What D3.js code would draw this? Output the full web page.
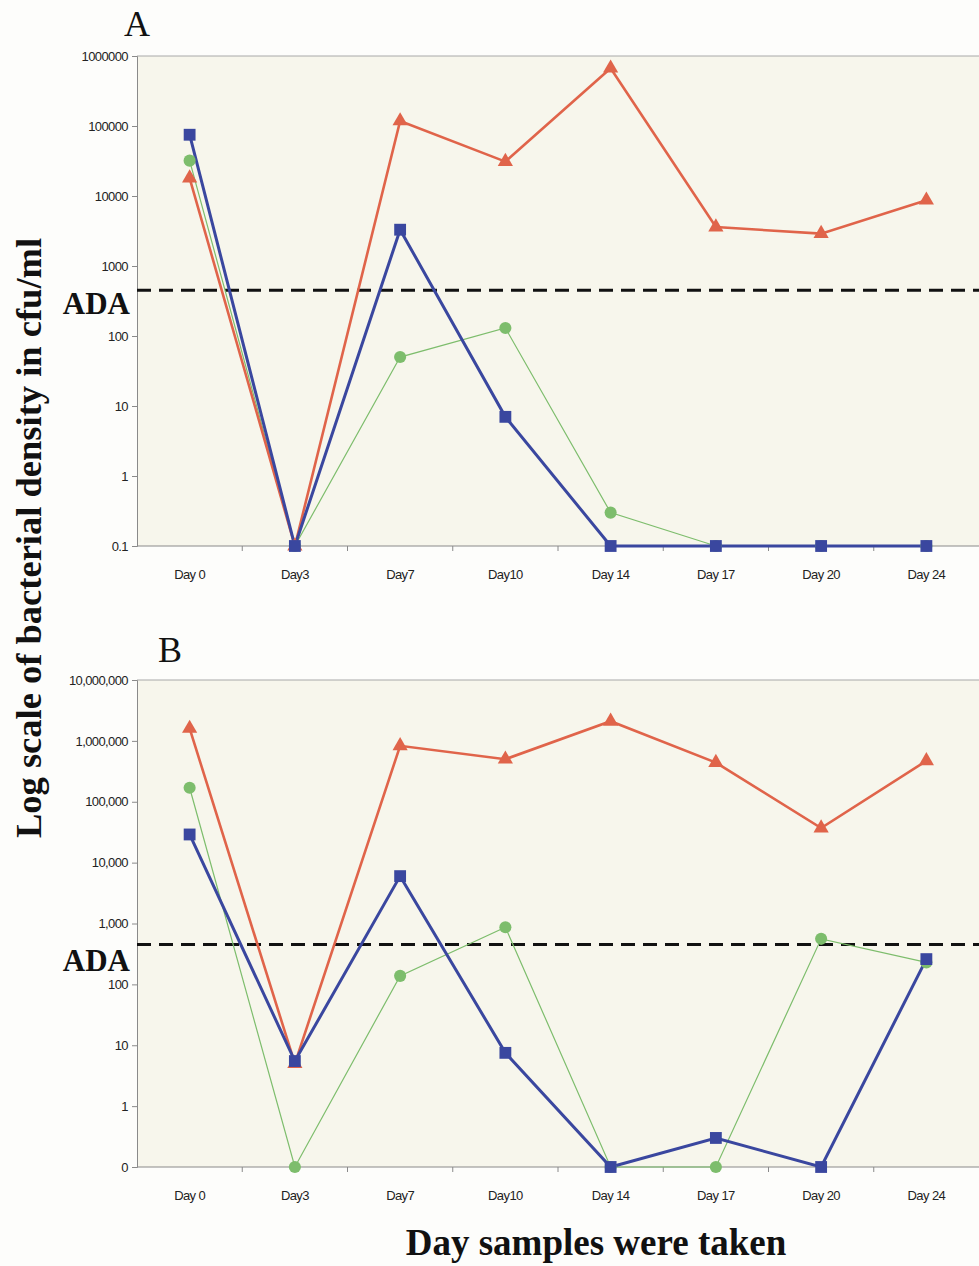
<!DOCTYPE html>
<html>
<head>
<meta charset="utf-8">
<script src="https://cdn.jsdelivr.net/npm/d3@7"></script>
<style>
  body { margin: 0; background: #fdfdfb; }
  svg text { font-family: "Liberation Sans", Arial, sans-serif; }
  .serif { font-family: "Liberation Serif", "Times New Roman", serif !important; }
</style>
</head>
<body>
<div id="vis"></div>
<script>
var WIDTH = 979
var HEIGHT = 1266

// categories (x axis)
var days = ["Day 0", "Day3", "Day7", "Day10", "Day 14", "Day 17", "Day 20", "Day 24"];

// detection threshold (ADA)
var adaLevel = 450;

// panel A values (cfu/ml)
var blueA  = [75000, 0.1, 3300, 7, 0.1, 0.1, 0.1, 0.1];
var greenA = [32000, 0.1, 50, 130, 0.3, 0.1, 0.1, 0.1];
var redA   = [18000, 0.1, 118000, 31000, 670000, 3600, 2900, 8700];
var ticksA = [0.1, 1, 10, 100, 1000, 10000, 100000, 1000000];

// panel B values (cfu/ml)
var blueB  = [29000, 5.5, 6000, 7.5, 0.1, 0.3, 0.1, 260];
var greenB = [170000, 0.1, 138, 870, 0.1, 0.1, 560, 230];
var redB   = [1600000, 5, 830000, 500000, 2100000, 440000, 37000, 470000];
var ticksB = [0.1, 1, 10, 100, 1000, 10000, 100000, 1000000, 10000000];

const svg = d3.select('#vis').append('svg')
    .attr('width', WIDTH)
    .attr('height', HEIGHT);

svg.append('rect').attr('width', WIDTH).attr('height', HEIGHT).attr('fill', '#fdfdfb');

var left = 137, right = 979;

var x = d3.scaleBand().domain(days).range([left, right]);

function drawPanel(cfg) {
    var y = d3.scaleLog().domain([cfg.ticks[0], cfg.ticks[cfg.ticks.length - 1]]).range([cfg.bottom, cfg.top]);
    var g = svg.append('g');

    // plot area
    g.append('rect')
        .attr('x', left).attr('y', cfg.top)
        .attr('width', right - left).attr('height', cfg.bottom - cfg.top)
        .attr('fill', '#f7f6ec');
    g.append('line')
        .attr('x1', left).attr('x2', right).attr('y1', cfg.top).attr('y2', cfg.top)
        .attr('stroke', '#a8a8a8').attr('stroke-width', 1);

    // y axis
    var yAxis = d3.axisLeft(y).tickValues(cfg.ticks).tickFormat(cfg.fmt).tickSize(5).tickPadding(4);
    var ya = g.append('g').attr('transform', 'translate(' + left + ',0)').call(yAxis);
    ya.select('.domain').attr('stroke', '#8a8a8a');
    ya.selectAll('.tick line').attr('stroke', '#8a8a8a');
    ya.selectAll('text').attr('font-size', 13).attr('fill', '#222').attr('letter-spacing', -0.6);

    // x axis with ticks between categories
    var xa = g.append('g').attr('transform', 'translate(0,' + cfg.bottom + ')');
    xa.append('line').attr('x1', left).attr('x2', right).attr('stroke', '#8a8a8a');
    xa.selectAll('line.tk')
        .data(days.slice(1))
        .enter().append('line')
        .attr('class', 'tk')
        .attr('x1', d => x(d)).attr('x2', d => x(d))
        .attr('y1', 0).attr('y2', 5)
        .attr('stroke', '#8a8a8a');
    xa.selectAll('text')
        .data(days)
        .enter().append('text')
        .attr('x', d => x(d) + x.bandwidth() / 2)
        .attr('y', 33)
        .attr('text-anchor', 'middle')
        .attr('font-size', 13)
        .attr('letter-spacing', -0.6)
        .attr('fill', '#222')
        .text(d => d);

    // ADA dashed line
    g.append('line')
        .attr('x1', left).attr('x2', right)
        .attr('y1', y(adaLevel)).attr('y2', y(adaLevel))
        .attr('stroke', '#111').attr('stroke-width', 3)
        .attr('stroke-dasharray', '14,8');
    g.append('text')
        .attr('class', 'serif')
        .attr('x', 130).attr('y', y(adaLevel) + cfg.adaDy)
        .attr('text-anchor', 'end')
        .attr('font-size', 31).attr('font-weight', 'bold')
        .attr('fill', '#111')
        .text('ADA');

    // panel letter
    g.append('text')
        .attr('class', 'serif')
        .attr('x', cfg.letterX).attr('y', cfg.letterY)
        .attr('font-size', 36)
        .attr('fill', '#111')
        .text(cfg.letter);

    var line = d3.line()
        .x((d, i) => x(days[i]) + x.bandwidth() / 2)
        .y(d => y(d));

    var series = [
        { values: cfg.green, color: '#7dbd6c', width: 1.2, shape: 'circle' },
        { values: cfg.red, color: '#e0644a', width: 2.6, shape: 'triangle' },
        { values: cfg.blue, color: '#3a479f', width: 3, shape: 'square' }
    ];

    series.forEach(s => {
        g.append('path')
            .datum(s.values)
            .attr('d', line)
            .attr('fill', 'none')
            .attr('stroke', s.color)
            .attr('stroke-width', s.width);
    });

    series.forEach(s => {
        var sym = s.shape == 'circle' ? d3.symbolCircle : (s.shape == 'triangle' ? d3.symbolTriangle : d3.symbolSquare);
        var size = s.shape == 'circle' ? 115 : (s.shape == 'triangle' ? 100 : 140);
        g.selectAll('path.m-' + s.shape)
            .data(s.values)
            .enter().append('path')
            .attr('class', 'm-' + s.shape)
            .attr('d', d3.symbol().type(sym).size(size))
            .attr('transform', (d, i) => 'translate(' + (x(days[i]) + x.bandwidth() / 2) + ',' + y(d) + ')')
            .attr('fill', s.color);
    });
}

drawPanel({
    top: 56, bottom: 546, ticks: ticksA,
    fmt: v => v < 1 ? '0.1' : d3.format('d')(v),
    blue: blueA, green: greenA, red: redA,
    letter: 'A', letterX: 124, letterY: 36, adaDy: 24
});

drawPanel({
    top: 680, bottom: 1167, ticks: ticksB,
    fmt: v => v < 1 ? '0' : d3.format(',')(v),
    blue: blueB, green: greenB, red: redB,
    letter: 'B', letterX: 158, letterY: 662, adaDy: 26
});

// axis titles
svg.append('text')
    .attr('class', 'serif')
    .attr('transform', 'translate(41,538) rotate(-90)')
    .attr('text-anchor', 'middle')
    .attr('font-size', 36.5).attr('font-weight', 'bold')
    .attr('fill', '#111')
    .text('Log scale of bacterial density in cfu/ml');

svg.append('text')
    .attr('class', 'serif')
    .attr('x', 596).attr('y', 1255)
    .attr('text-anchor', 'middle')
    .attr('font-size', 37).attr('font-weight', 'bold')
    .attr('fill', '#111')
    .text('Day samples were taken');
</script>
</body>
</html>
